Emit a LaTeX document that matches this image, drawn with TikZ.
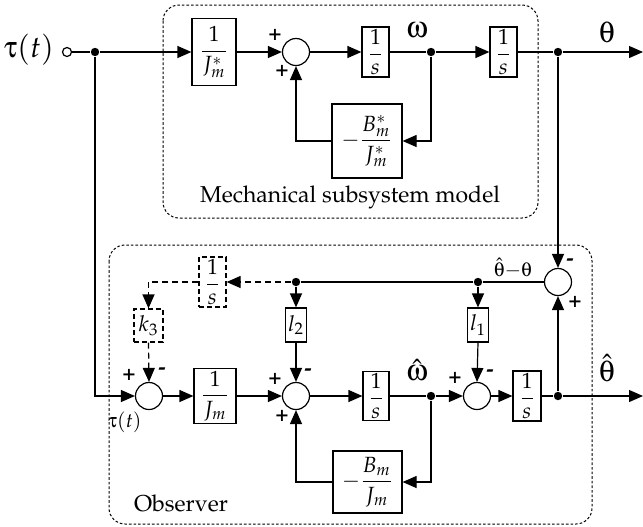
\documentclass[tikz,border=0pt]{standalone}
\usepackage[T1]{fontenc}
\usepackage{amsmath}
\usepackage{mathpazo}
\usepackage[Symbol]{upgreek}
\usetikzlibrary{arrows.meta,calc}
\begin{document}
\begin{tikzpicture}[x=0.5pt,y=-0.5pt,
  line width=0.6pt,
  >={Triangle[length=7pt,width=6pt]},
  blk/.style={draw,fill=white,inner sep=0pt,font=\fontsize{11}{13}\selectfont},
  dblk/.style={blk,dashed,dash pattern=on 2.5pt off 1.5pt},
  sumc/.style={circle,draw,fill=white,inner sep=0pt,minimum size=13.5pt},
  dot/.style={circle,fill,inner sep=0pt,minimum size=4.2pt},
  sgn/.style={font=\fontsize{11}{11}\selectfont\bfseries,inner sep=0pt},
  grk/.style={font=\fontsize{15}{15}\selectfont,inner sep=0pt},
  frame/.style={draw,dashed,dash pattern=on 1.3pt off 1pt,line width=0.5pt,rounded corners=8pt},
  dline/.style={dashed,dash pattern=on 3pt off 2pt}
]
\useasboundingbox (0,0) rectangle (643,526);

% frames
\draw[frame] (163,5) rectangle (538,218);
\draw[frame] (109,245) rectangle (592,524);
\node[font=\fontsize{11.5}{13}\selectfont] (mechlbl) at (350,197) {Mechanical subsystem model};
\node[font=\fontsize{11.5}{13}\selectfont] (obslbl) at (181,503) {Observer};

% top row
\node[font=\fontsize{15}{15}\selectfont,inner sep=0pt] (taulbl) at (29,50) {$\uptau(t)$};
\node[circle,draw,inner sep=0pt,minimum size=4.5pt] (in) at (67,52) {};
\node[dot] (dtau) at (95,52) {};
\node[blk,minimum width=22pt,minimum height=33.5pt] (A1) at (214,52) {$\dfrac{1}{J_m^*}$};
\node[sumc] (S1) at (296,52) {};
\node[blk,minimum width=13.5pt,minimum height=25pt] (I1) at (375.5,52) {$\dfrac{1}{s}$};
\node[dot] (dw) at (431,52) {};
\node[blk,minimum width=13.5pt,minimum height=25pt] (I2) at (503.5,52) {$\dfrac{1}{s}$};
\node[dot] (dth) at (558,52) {};
\coordinate (out1) at (643,52);
\node[blk,minimum width=35pt,minimum height=37pt] (F1) at (367,141) {$-\dfrac{B_m^*}{J_m^*}$};
\node[grk] (wlbl) at (417,30) {$\upomega$};
\node[grk] (thlbl) at (607,32) {$\uptheta$};
\node[sgn] (s1a) at (275,35) {+};
\node[sgn] (s1b) at (282,71) {+};

\draw (in) -- (dtau);
\draw[->] (dtau) -- (A1);
\draw[->] (A1) -- (S1);
\draw[->] (S1) -- (I1);
\draw (I1) -- (dw);
\draw[->] (dw) -- (I2);
\draw (I2) -- (dth);
\draw[->] (dth) -- (out1);
\draw[->] (dw) |- (F1.east);
\draw[->] (F1.west) -| (S1.south);

% observer
\node[sumc] (S4) at (558,282) {};
\node[dot] (e1) at (478,282) {};
\node[dot] (e2) at (296,282) {};
\node[blk,minimum width=10.5pt,minimum height=17pt] (l1) at (478,325) {$l_1$};
\node[blk,minimum width=10.5pt,minimum height=17pt] (l2) at (296,325) {$l_2$};
\node[dblk,minimum width=13.5pt,minimum height=25pt] (I0) at (212.5,282) {$\dfrac{1}{s}$};
\node[dblk,minimum width=14.5pt,minimum height=16.5pt] (k3) at (148.5,325.5) {$k_3$};
\node[sumc] (S0) at (149,396) {};
\node[blk,minimum width=21pt,minimum height=27.5pt] (A2) at (215,396) {$\dfrac{1}{J_m}$};
\node[sumc] (S2) at (296,396) {};
\node[blk,minimum width=13pt,minimum height=24.5pt] (I3) at (376,396) {$\dfrac{1}{s}$};
\node[dot] (dwh) at (431,396) {};
\node[sumc] (S3) at (477,396) {};
\node[blk,minimum width=14pt,minimum height=25pt] (I4) at (527,396) {$\dfrac{1}{s}$};
\node[dot] (dthh) at (558,396) {};
\coordinate (out2) at (643,396);
\node[blk,minimum width=34.5pt,minimum height=31pt] (F2) at (367.5,482) {$-\dfrac{B_m}{J_m}$};

\node[grk] (whlbl) at (417,370) {$\hat{\upomega}$};
\node[grk] (thhlbl) at (607,368) {$\hat{\uptheta}$};
\node[font=\fontsize{10}{10}\selectfont,inner sep=0pt] (errlbl) at (513,268) {$\hat{\uptheta}{-}\uptheta$};
\node[font=\fontsize{10}{10}\selectfont,inner sep=0pt] (tau2) at (125,422) {$\uptau(t)$};

\node[sgn] (s0a) at (129,375) {+};
\node[sgn] (s0b) at (162,371) {-};
\node[sgn] (s2a) at (275,379) {+};
\node[sgn] (s2b) at (308,372) {-};
\node[sgn] (s2c) at (282,416) {+};
\node[sgn] (s3a) at (455,378) {+};
\node[sgn] (s3b) at (490,373) {-};
\node[sgn] (s4a) at (570,262) {-};
\node[sgn] (s4b) at (575,302) {+};

\draw[->] (dth) -- (S4.north);
\draw[->] (dtau) |- (S0.west);
\draw[->] (S0) -- (A2);
\draw[->] (A2) -- (S2);
\draw[->] (S2) -- (I3);
\draw (I3) -- (dwh);
\draw[->] (dwh) -- (S3);
\draw[->] (S3) -- (I4);
\draw (I4) -- (dthh);
\draw[->] (dthh) -- (out2);
\draw[->] (dthh) -- (S4.south);
\draw (S4.west) -- (e1);
\draw (e1) -- (e2);
\draw[->] (e1) -- (l1.north);
\draw[->] (l1.south) -- (S3.north);
\draw[->] (e2) -- (l2.north);
\draw[->] (l2.south) -- (S2.north);
\draw[->,dline] (e2) -- (I0.east);
\draw[->,dline] (I0.west) -| (k3.north);
\draw[->,dline] (k3.south) -- (S0.north);
\draw[->] (dwh) |- (F2.east);
\draw[->] (F2.west) -| (S2.south);
\end{tikzpicture}
\end{document}
